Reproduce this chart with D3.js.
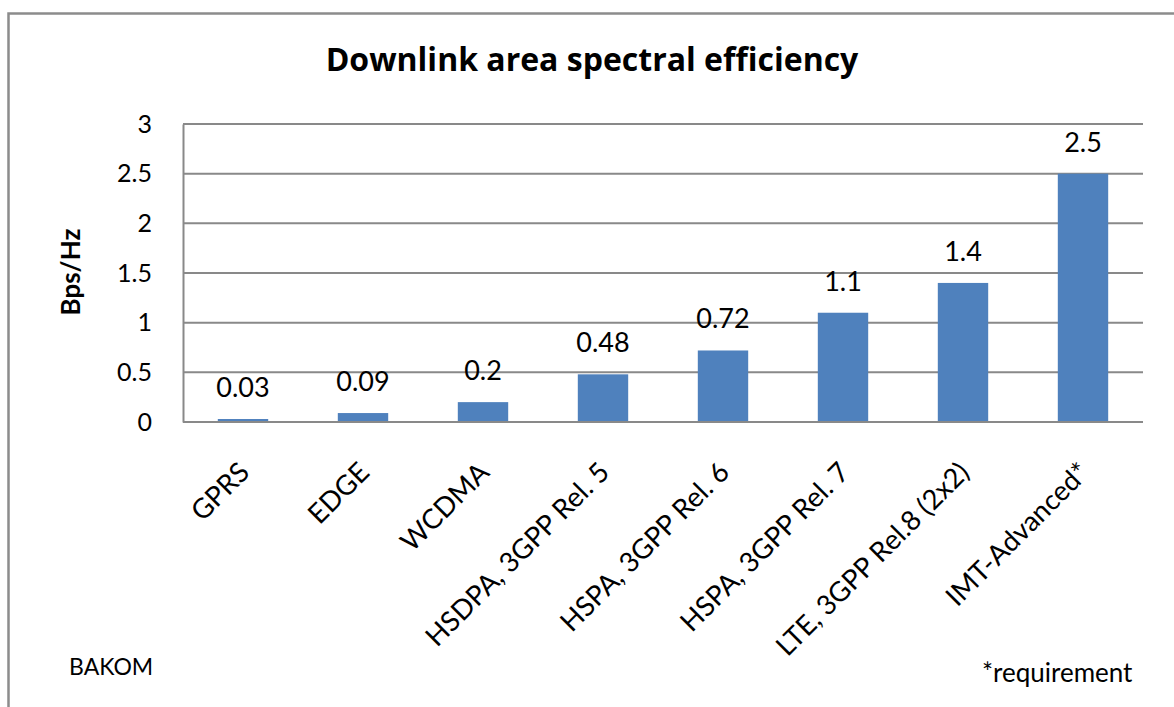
<!DOCTYPE html>
<html>
<head>
<meta charset="utf-8">
<script src="https://cdn.jsdelivr.net/npm/d3@7"></script>
<style>
  html, body { margin: 0; padding: 0; background: #ffffff; }
  svg { display: block; }
  text { font-family: Lato, "Open Sans", sans-serif; fill: #000; }
  text.title { font-family: "Open Sans", Lato, sans-serif; font-weight: bold; }
</style>
</head>
<body>
<svg id="chart" width="1174" height="707"></svg>
<script>
// Downlink area spectral efficiency per radio technology (Bps/Hz)
const categories = [
  "GPRS",
  "EDGE",
  "WCDMA",
  "HSDPA, 3GPP Rel. 5",
  "HSPA, 3GPP Rel. 6",
  "HSPA, 3GPP Rel. 7",
  "LTE, 3GPP Rel.8 (2x2)",
  "IMT-Advanced*"
];
const values = [0.03, 0.09, 0.2, 0.48, 0.72, 1.1, 1.4, 2.5];
const yTicks = [0, 0.5, 1, 1.5, 2, 2.5, 3];
const yTickLabels = ["0", "0.5", "1", "1.5", "2", "2.5", "3"];

const svg = d3.select("#chart");
const W = 1174, H = 707;

const plot = { left: 183, right: 1143, top: 124, bottom: 422 };

const x = d3.scaleBand()
  .domain(categories)
  .range([plot.left, plot.right])
  .paddingInner(0.58)
  .paddingOuter(0.29);

const y = d3.scaleLinear()
  .domain([0, 3])
  .range([plot.bottom, plot.top]);

const gridColor = "#898989";

// outer frame (only top and left edges fall inside the page)
svg.append("path")
  .attr("d", `M8.5,${H + 5} L8.5,13.5 L${W + 5},13.5`)
  .attr("fill", "none")
  .attr("stroke", "#8c8c8c")
  .attr("stroke-width", 2.5);

// title
svg.append("text")
  .attr("class", "title")
  .attr("x", 592)
  .attr("y", 71)
  .attr("text-anchor", "middle")
  .attr("font-size", 32)
  .text("Downlink area spectral efficiency");

// horizontal gridlines
svg.append("g")
  .selectAll("line")
  .data(yTicks)
  .join("line")
  .attr("x1", plot.left)
  .attr("x2", plot.right)
  .attr("y1", d => y(d))
  .attr("y2", d => y(d))
  .attr("stroke", gridColor)
  .attr("stroke-width", 2);

// y axis with labels only (no tick marks)
const yAxis = d3.axisLeft(y)
  .tickValues(yTicks)
  .tickFormat((d, i) => yTickLabels[i])
  .tickSize(0)
  .tickPadding(31);

const gy = svg.append("g")
  .attr("transform", `translate(${plot.left},0)`)
  .call(yAxis);
gy.select(".domain").attr("stroke", gridColor).attr("stroke-width", 2);
gy.selectAll("text")
  .attr("font-size", 25)
  .attr("fill", "#000");

// y axis title
svg.append("text")
  .attr("transform", "translate(80,272) rotate(-90)")
  .attr("text-anchor", "middle")
  .attr("font-weight", "bold")
  .attr("font-size", 26)
  .text("Bps/Hz");

// bars
svg.append("g")
  .selectAll("rect")
  .data(values)
  .join("rect")
  .attr("x", (d, i) => x(categories[i]))
  .attr("width", x.bandwidth())
  .attr("y", d => y(d))
  .attr("height", d => y(0) - y(d))
  .attr("fill", "#4f81bd");

// baseline drawn over the bars
svg.append("line")
  .attr("x1", plot.left)
  .attr("x2", plot.right)
  .attr("y1", y(0))
  .attr("y2", y(0))
  .attr("stroke", gridColor)
  .attr("stroke-width", 2);

// value labels
svg.append("g")
  .selectAll("text")
  .data(values)
  .join("text")
  .attr("x", (d, i) => x(categories[i]) + x.bandwidth() / 2)
  .attr("y", d => y(d) - 22)
  .attr("text-anchor", "middle")
  .attr("font-size", 27)
  .text(d => String(d));

// rotated category labels
svg.append("g")
  .selectAll("text")
  .data(categories)
  .join("text")
  .attr("transform", d => `translate(${x(d) + x.bandwidth() / 2 + 8},474) rotate(-45)`)
  .attr("text-anchor", "end")
  .attr("font-size", 27.5)
  .text(d => d);

// footnotes
svg.append("text")
  .attr("x", 69)
  .attr("y", 675)
  .attr("font-size", 23)
  .text("BAKOM");

svg.append("text")
  .attr("x", 982)
  .attr("y", 682)
  .attr("font-size", 26)
  .text("*requirement");
</script>
</body>
</html>
